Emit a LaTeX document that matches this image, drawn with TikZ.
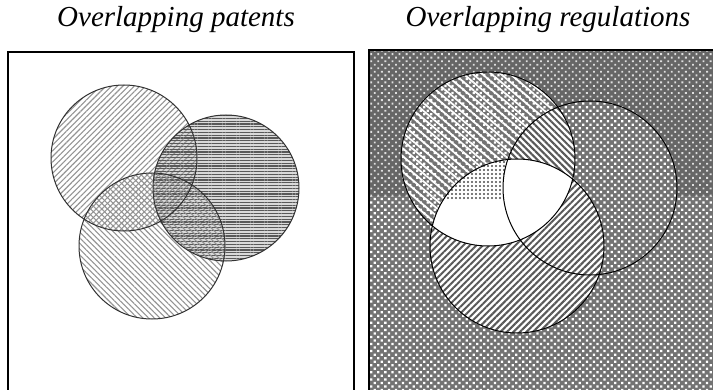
\documentclass[tikz,border=0pt]{standalone}
\usepackage{fontspec}
\setmainfont{Liberation Serif}
\usetikzlibrary{patterns,patterns.meta}

\tikzset{
  title/.style={font=\fontsize{14.5}{17}\selectfont\itshape,anchor=base,inner sep=0pt},
  ring/.style={draw=black,line width=0.5pt},
  halftone/.style={preaction={fill=black!55},pattern={Dots[angle=45,distance=2.5pt,radius=0.8pt]},pattern color=white},
  topband/.style={preaction={fill=black!60},pattern={Dots[angle=45,distance=2.5pt,radius=0.65pt]},pattern color=white!75!gray},
  wavy/.style={pattern={Lines[angle=-40,distance=3pt,line width=0.9pt]},pattern color=white},
  rlines/.style={preaction={fill=white},pattern={Lines[angle=45,distance=2.3pt,line width=1pt]},pattern color=gray!70!black},
  llines/.style={preaction={fill=white},pattern={Lines[angle=-45,distance=2.3pt,line width=1pt]},pattern color=gray!70!black},
  griddots/.style={pattern={Dots[distance=2pt,radius=0.6pt]},pattern color=gray!60!black}
}

\begin{document}
\begin{tikzpicture}[x=0.5pt,y=-0.5pt]
  \useasboundingbox (0,0) rectangle (713,390);
  \node[title] (tpat) at (176,27) {Overlapping patents};
  \node[title] (treg) at (548,27) {Overlapping regulations};

  % patents
  \coordinate (a) at (124,158);
  \coordinate (b) at (226,188);
  \coordinate (c) at (152,246);
  \draw [line width=0.6pt] (8,400) -- (8,52) -- (354,52) -- (354,400);
  \fill [gray!30] (b) circle [radius=73];
  \fill [pattern={Lines[angle=45,distance=2pt,line width=0.55pt]},pattern color=gray!85] (a) circle [radius=73];
  \fill [pattern={Lines[angle=0,distance=1.4pt,line width=0.55pt]},pattern color=gray!70!black] (b) circle [radius=73];
  \fill [pattern={Lines[angle=-45,distance=2pt,line width=0.55pt]},pattern color=gray!85] (c) circle [radius=73];
  \draw [ring,draw=black!80] (a) circle [radius=73];
  \draw [ring,draw=black!80] (b) circle [radius=73];
  \draw [ring,draw=black!80] (c) circle [radius=73];

  % regulations
  \coordinate (d) at (488,159);
  \coordinate (e) at (590,188);
  \coordinate (f) at (517,246);
  \fill [halftone] (369,50) rectangle (714,391);
  \fill [topband] (369,50) rectangle (714,196);
  \fill [halftone] (d) circle [radius=87];
  \fill [wavy] (d) circle [radius=87];
  \fill [halftone] (e) circle [radius=87];
  \begin{scope}
    \clip (d) circle [radius=87];
    \fill [llines] (e) circle [radius=87];
  \end{scope}
  \fill [rlines] (f) circle [radius=87];
  \begin{scope}
    \clip (d) circle [radius=87];
    \fill [white] (f) circle [radius=87];
    \clip (f) circle [radius=87];
    \fill [griddots] (369,50) rectangle (714,200);
    \fill [white] (e) circle [radius=87];
  \end{scope}
  \draw [line width=0.6pt] (369,400) -- (369,50) -- (714,50);
  \draw [ring] (d) circle [radius=87];
  \draw [ring] (e) circle [radius=87];
  \draw [ring] (f) circle [radius=87];
\end{tikzpicture}
\end{document}
